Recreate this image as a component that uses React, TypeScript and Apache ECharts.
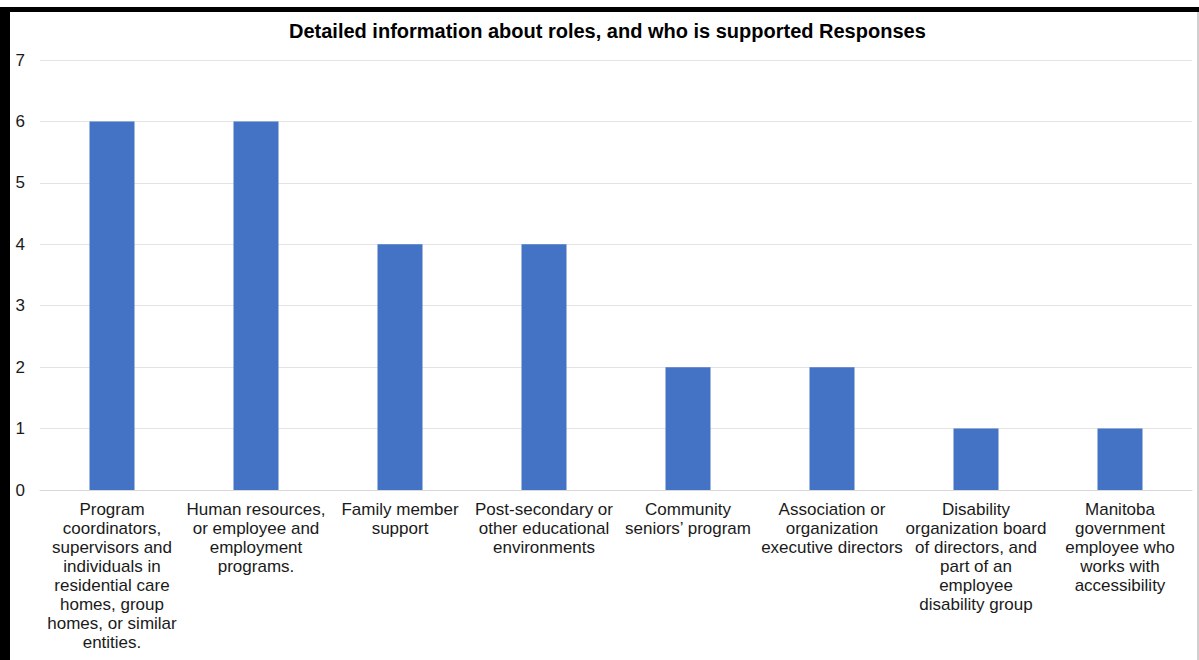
import React, { useEffect, useRef } from "react";
import * as echarts from "echarts";

const titleText = "Detailed information about roles, and who is supported Responses";
const categories = [
  "Program\ncoordinators,\nsupervisors and\nindividuals in\nresidential care\nhomes, group\nhomes, or similar\nentities.",
  "Human resources,\nor employee and\nemployment\nprograms.",
  "Family member\nsupport",
  "Post-secondary or\nother educational\nenvironments",
  "Community\nseniors\u2019 program",
  "Association or\norganization\nexecutive directors",
  "Disability\norganization board\nof directors, and\npart of an\nemployee\ndisability group",
  "Manitoba\ngovernment\nemployee who\nworks with\naccessibility",
];
const responses = [6, 6, 4, 4, 2, 2, 1, 1];
const yTicks = { min: 0, max: 7, interval: 1 };

export default function App() {
  const ref = useRef<HTMLDivElement>(null);
  useEffect(() => {
    if (!ref.current) return;
    const chart = echarts.init(ref.current, null, { renderer: "svg" });
    chart.setOption({
      animation: false,
      backgroundColor: "#ffffff",
      textStyle: { fontFamily: "Liberation Sans, Arial, sans-serif" },
      title: {
        text: titleText,
        left: 284,
        top: 16,
        textStyle: { fontSize: 20, fontWeight: "bold", color: "#000", fontFamily: "Liberation Sans, Arial, sans-serif" },
      },
      grid: { left: 40, right: 7, top: 60, bottom: 170 },
      xAxis: {
        type: "category",
        data: categories,
        axisTick: { show: false },
        axisLine: { lineStyle: { color: "#d9d9d9", width: 1 } },
        axisLabel: {
          interval: 0,
          margin: 10,
          fontSize: 17,
          lineHeight: 19,
          color: "#1a1a1a",
          align: "center",
        },
      },
      yAxis: {
        type: "value",
        min: yTicks.min,
        max: yTicks.max,
        interval: yTicks.interval,
        axisLine: { show: false },
        axisTick: { show: false },
        splitLine: { lineStyle: { color: "#e3e3e3", width: 1 } },
        axisLabel: { fontSize: 17, color: "#1a1a1a", margin: 15 },
      },
      series: [
        {
          type: "bar",
          data: responses,
          barWidth: 45,
          itemStyle: { color: "#4472C4" },
        },
      ],
      graphic: [
        { type: "rect", shape: { x: 0, y: 7, width: 1199, height: 5 }, style: { fill: "#000" }, z: 100 },
        { type: "rect", shape: { x: 0, y: 7, width: 10, height: 653 }, style: { fill: "#000" }, z: 100 },
        { type: "rect", shape: { x: 1197, y: 12, width: 2, height: 648 }, style: { fill: "#d0d0d0" }, z: 100 },
      ],
    });
    return () => chart.dispose();
  }, []);
  return (
    <div
      ref={ref}
      style={{ position: "fixed", left: 0, top: 0, width: 1199, height: 660 }}
    />
  );
}
